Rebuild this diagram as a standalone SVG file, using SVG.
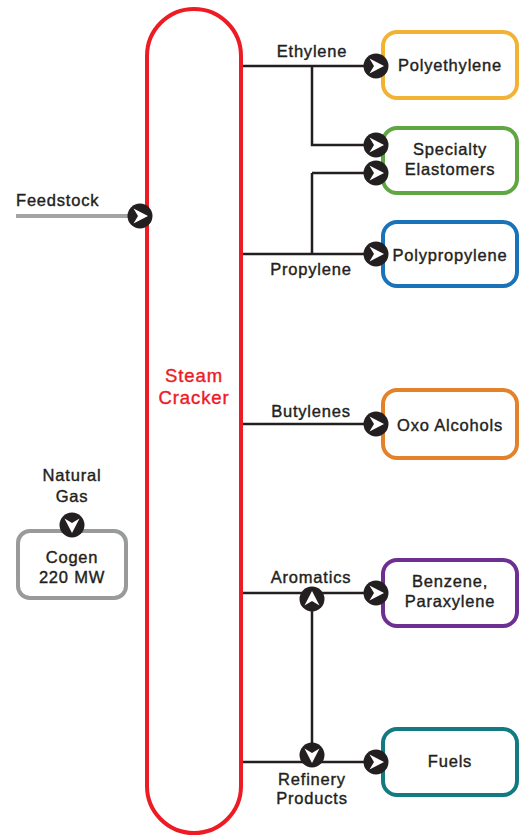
<svg xmlns="http://www.w3.org/2000/svg" width="524" height="836" viewBox="0 0 524 836">
<style>
text{font-family:"Liberation Sans",Arial,sans-serif;font-size:16.5px;fill:#231f20;stroke:#231f20;stroke-width:0.4px;letter-spacing:0.8px;text-anchor:middle}
.red{fill:#ed1c24;stroke:#ed1c24;font-size:18.5px;letter-spacing:0.9px}
.box{fill:#fff;stroke-width:4}
.ln{stroke:#231f20;stroke-width:2.5;fill:none}
.dot{fill:#231f20}
.chev{fill:#fff}
</style>
<defs>
<g id="arr">
<circle class="dot" r="12.5"/>
<path class="chev" d="M-6.5,-7.5 L8,0 L-6.5,7.5 L-2,0 Z"/>
</g>
</defs>
<g id="steam-cracker">
<rect x="147" y="9" width="94" height="824" rx="47" fill="#fff" stroke="#ed1c24" stroke-width="4"/>
<text class="red" x="194" y="382">Steam</text>
<text class="red" x="194" y="404">Cracker</text>
</g>
<g id="connectors">
<line x1="16" y1="216" x2="135" y2="216" stroke="#a3a4a6" stroke-width="4"/>
<path class="ln" d="M243,66 H370 M312,66 V145 H370 M312,173 H370 M312,173 V254 M243,254 H370 M243,424 H370 M243,593 H370 M243,762 H370 M312,599 V755"/>
<use href="#arr" x="140" y="216"/>
<use href="#arr" transform="translate(312,599) rotate(-90)"/>
<use href="#arr" transform="translate(312,755) rotate(90)"/>
<text x="312" y="57">Ethylene</text>
<text x="311" y="275">Propylene</text>
<text x="311" y="417">Butylenes</text>
<text x="311" y="583">Aromatics</text>
<text x="312" y="785">Refinery</text>
<text x="312" y="804">Products</text>
<text x="16" y="206" style="text-anchor:start">Feedstock</text>
<text x="72" y="481">Natural</text>
<text x="72" y="502">Gas</text>
</g>
<g id="cogen">
<rect class="box" x="18" y="531" width="108" height="67" rx="12" stroke="#999a9c"/>
<text x="72" y="563">Cogen</text>
<text x="72" y="583">220 MW</text>
<use href="#arr" transform="translate(72,525) rotate(90)"/>
</g>
<g id="polyethylene">
<rect class="box" x="383" y="32" width="134" height="66" rx="14" stroke="#f2b233"/>
<use href="#arr" x="376" y="66"/>
<text x="450" y="71">Polyethylene</text>
</g>
<g id="specialty">
<rect class="box" x="383" y="128" width="134" height="65" rx="14" stroke="#5ea743"/>
<use href="#arr" x="376" y="145"/>
<use href="#arr" x="376" y="173"/>
<text x="450" y="155">Specialty</text>
<text x="450" y="175">Elastomers</text>
</g>
<g id="polypropylene">
<rect class="box" x="383" y="222" width="134" height="64" rx="14" stroke="#1a72b9"/>
<use href="#arr" x="376" y="254"/>
<text x="450" y="261">Polypropylene</text>
</g>
<g id="oxo">
<rect class="box" x="383" y="390" width="134" height="68" rx="14" stroke="#e4822a"/>
<use href="#arr" x="376" y="424"/>
<text x="450" y="431">Oxo Alcohols</text>
</g>
<g id="benzene">
<rect class="box" x="383" y="560" width="134" height="66" rx="14" stroke="#6d2f92"/>
<use href="#arr" x="376" y="593"/>
<text x="450" y="587">Benzene,</text>
<text x="450" y="607">Paraxylene</text>
</g>
<g id="fuels">
<rect class="box" x="383" y="729" width="134" height="66" rx="14" stroke="#127a80"/>
<use href="#arr" x="376" y="762"/>
<text x="450" y="767">Fuels</text>
</g>
</svg>
